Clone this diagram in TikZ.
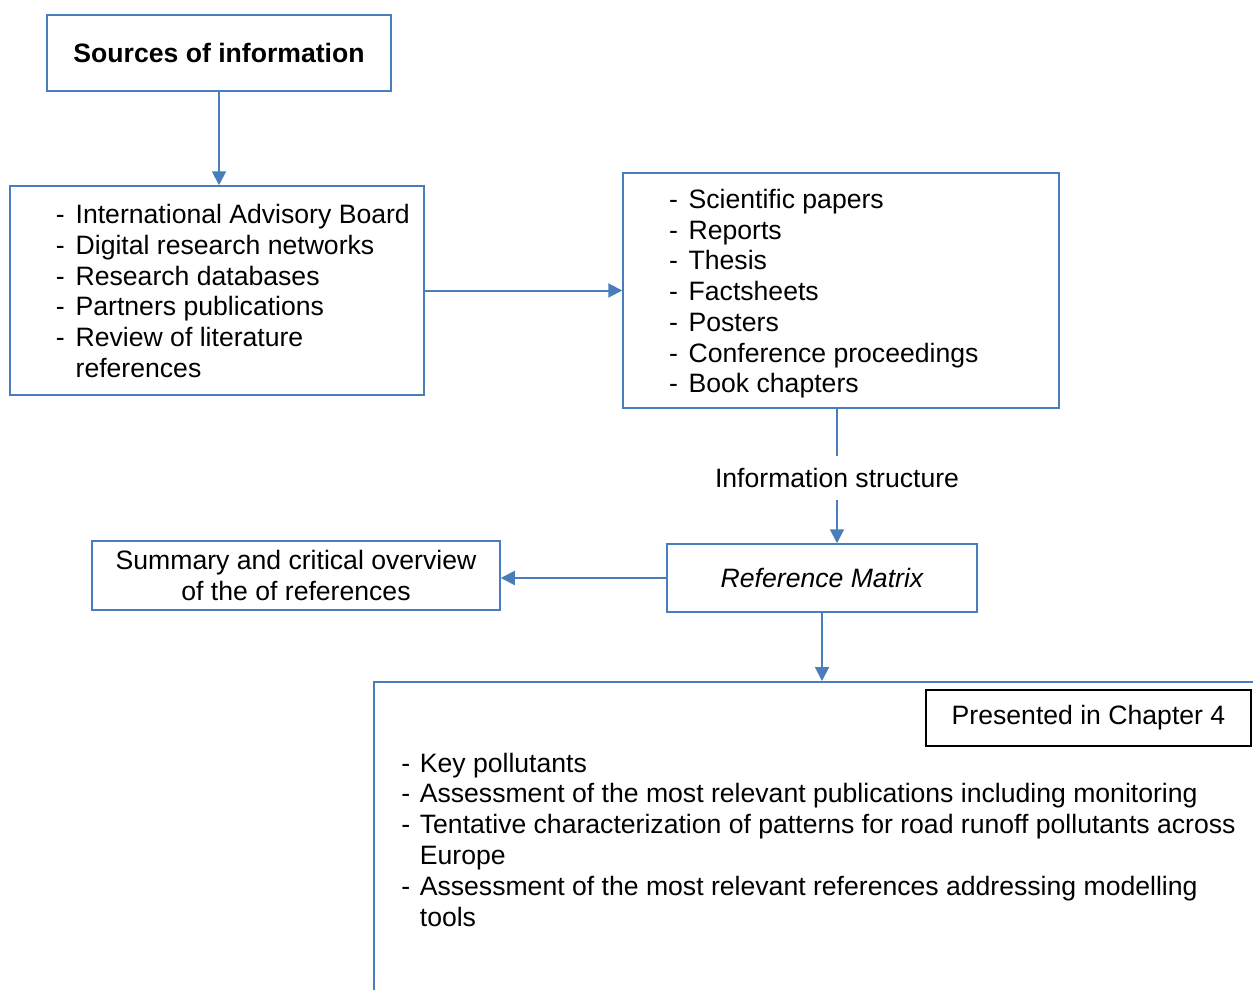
\documentclass[tikz,border=0pt]{standalone}
\usepackage{fontspec}
\setmainfont{Liberation Sans}
\usetikzlibrary{arrows.meta}
\definecolor{boxblue}{RGB}{74,126,187}
\newcommand{\txtsize}{\fontsize{13.3}{15.35}\selectfont}
\begin{document}
\begin{tikzpicture}[x=0.5pt,y=-0.5pt,
  box/.style={draw=boxblue, line width=0.75pt, inner sep=0pt},
  conn/.style={draw=boxblue, line width=1pt, -{Triangle[length=7pt,width=7pt]}},
  plain/.style={draw=boxblue, line width=1pt},
  txt/.style={font=\txtsize, text=black}]
\useasboundingbox (0,0) rectangle (1253,990);
\clip (0,0) rectangle (1253,990);

\node[box, minimum width=172pt, minimum height=38pt, font=\txtsize\bfseries] (src) at (219,53) {Sources of information};

\node[box, txt, minimum width=207pt, minimum height=104.5pt] (iab) at (217,290.5)
  {\makebox[207pt][l]{\hspace{23pt}\raisebox{-2pt}[\height][\depth]{\begin{tabular}{@{}l@{\hspace{5.4pt}}l@{}}
  - & International Advisory Board\\
  - & Digital research networks\\
  - & Research databases\\
  - & Partners publications\\
  - & Review of literature\\
    & references
  \end{tabular}}}};

\node[box, txt, minimum width=218pt, minimum height=117.5pt] (rb) at (841,290.5)
  {\makebox[218pt][l]{\hspace{23pt}\raisebox{-2pt}[\height][\depth]{\begin{tabular}{@{}l@{\hspace{5.4pt}}l@{}}
  - & Scientific papers\\
  - & Reports\\
  - & Thesis\\
  - & Factsheets\\
  - & Posters\\
  - & Conference proceedings\\
  - & Book chapters
  \end{tabular}}}};

\node[txt, inner xsep=2pt, inner ysep=6pt] (lbl) at (837,478) {Information structure};

\node[box, txt, minimum width=155pt, minimum height=34pt, font=\txtsize\itshape] (rm) at (822,578) {Reference Matrix};

\node[box, txt, minimum width=204pt, minimum height=34.5pt, align=center] (sum) at (296,575.5)
  {Summary and critical overview\\of the of references};

\node[box, minimum width=500pt, minimum height=200pt, anchor=north west] (out) at (373,681) {};

\node[draw=black, line width=0.75pt, txt, minimum width=162.5pt, minimum height=28pt, inner sep=0pt] (ch4) at (1088.5,718) {Presented in Chapter 4};

\node[font=\fontsize{13.3}{15.45}\selectfont, inner sep=0pt, anchor=base west] (outlist) at (401,772)
  {\begin{tabular}[t]{@{}l@{\hspace{4.8pt}}l@{}}
  - & Key pollutants\\
  - & Assessment of the most relevant publications including monitoring\\
  - & Tentative characterization of patterns for road runoff pollutants across\\
    & Europe\\
  - & Assessment of the most relevant references addressing modelling\\
    & tools
  \end{tabular}};

\draw[conn] (src.south) -- (src.south |- iab.north);
\draw[conn] (iab.east) -- (rb.west);
\draw[plain] (rb.south -| lbl.north) -- (lbl.north);
\draw[conn] (lbl.south) -- (lbl.south |- rm.north);
\draw[conn] (rm.west) -- (rm.west -| sum.east);
\draw[conn] (rm.south) -- (rm.south |- out.north);
\end{tikzpicture}
\end{document}
